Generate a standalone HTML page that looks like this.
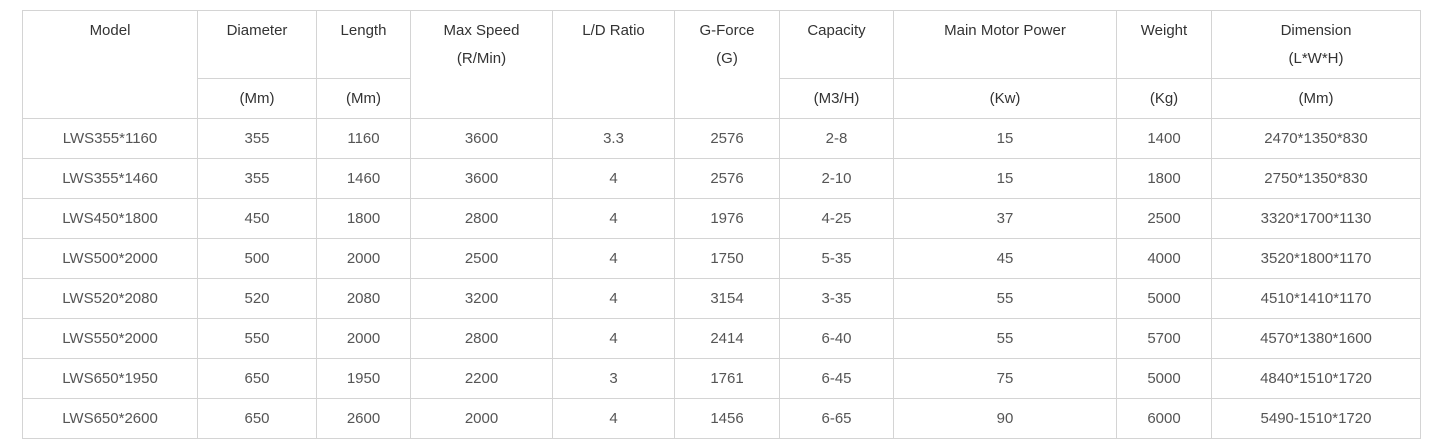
<!DOCTYPE html>
<html><head><meta charset="utf-8"><style>
body{margin:0;background:#fff;width:1444px;height:442px;overflow:hidden;font-family:"Liberation Sans",sans-serif;}
table{position:absolute;left:22px;top:10px;border-collapse:collapse;table-layout:fixed;width:1399px;}
td{border:1px solid #d4d4d4;text-align:center;padding:0;font-size:15px;color:#555;}
tr.h1 td{height:61px;vertical-align:top;padding-top:6px;line-height:28px;color:#333;}
tr.h2 td{height:39px;color:#333;vertical-align:middle;}
tr.d td{height:39px;vertical-align:middle;}
</style></head><body>
<table>
<colgroup><col style="width:175px"><col style="width:119px"><col style="width:94px"><col style="width:142px"><col style="width:122px"><col style="width:105px"><col style="width:114px"><col style="width:223px"><col style="width:95px"><col style="width:209px"></colgroup>
<tr class="h1"><td rowspan="2">Model</td><td>Diameter</td><td>Length</td><td rowspan="2">Max Speed<br>(R/Min)</td><td rowspan="2">L/D Ratio</td><td rowspan="2">G-Force<br>(G)</td><td>Capacity</td><td>Main Motor Power</td><td>Weight</td><td>Dimension<br>(L*W*H)</td></tr>
<tr class="h2"><td>(Mm)</td><td>(Mm)</td><td>(M3/H)</td><td>(Kw)</td><td>(Kg)</td><td>(Mm)</td></tr>
<tr class="d"><td>LWS355*1160</td><td>355</td><td>1160</td><td>3600</td><td>3.3</td><td>2576</td><td>2-8</td><td>15</td><td>1400</td><td>2470*1350*830</td></tr>
<tr class="d"><td>LWS355*1460</td><td>355</td><td>1460</td><td>3600</td><td>4</td><td>2576</td><td>2-10</td><td>15</td><td>1800</td><td>2750*1350*830</td></tr>
<tr class="d"><td>LWS450*1800</td><td>450</td><td>1800</td><td>2800</td><td>4</td><td>1976</td><td>4-25</td><td>37</td><td>2500</td><td>3320*1700*1130</td></tr>
<tr class="d"><td>LWS500*2000</td><td>500</td><td>2000</td><td>2500</td><td>4</td><td>1750</td><td>5-35</td><td>45</td><td>4000</td><td>3520*1800*1170</td></tr>
<tr class="d"><td>LWS520*2080</td><td>520</td><td>2080</td><td>3200</td><td>4</td><td>3154</td><td>3-35</td><td>55</td><td>5000</td><td>4510*1410*1170</td></tr>
<tr class="d"><td>LWS550*2000</td><td>550</td><td>2000</td><td>2800</td><td>4</td><td>2414</td><td>6-40</td><td>55</td><td>5700</td><td>4570*1380*1600</td></tr>
<tr class="d"><td>LWS650*1950</td><td>650</td><td>1950</td><td>2200</td><td>3</td><td>1761</td><td>6-45</td><td>75</td><td>5000</td><td>4840*1510*1720</td></tr>
<tr class="d"><td>LWS650*2600</td><td>650</td><td>2600</td><td>2000</td><td>4</td><td>1456</td><td>6-65</td><td>90</td><td>6000</td><td>5490-1510*1720</td></tr>
</table>
</body></html>
